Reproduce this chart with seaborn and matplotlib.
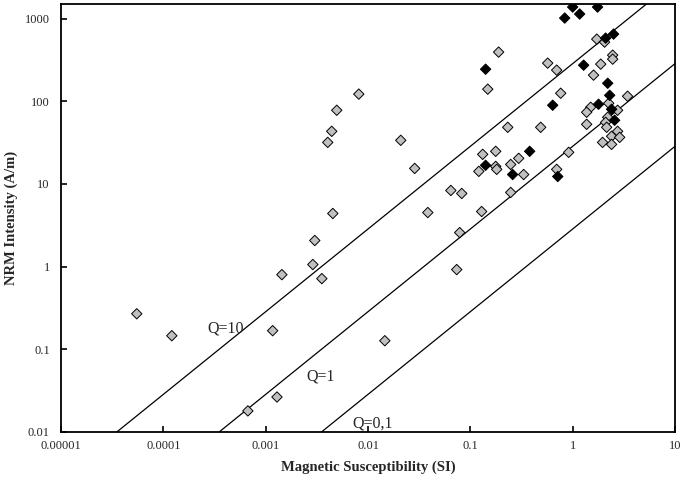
import matplotlib
matplotlib.use("Agg")
import matplotlib.pyplot as plt
import matplotlib.ticker as mticker
import numpy as np
import pandas as pd
import seaborn as sns

# ── Data ────────────────────────────────────────────────────────────────────
# grey diamonds: susceptibility (SI) and NRM intensity (A/m)
grey_k = [5.5e-5, 1.21e-4, 6.7e-4, 1.29e-3, 1.17e-3, 1.44e-3, 2.89e-3, 3.54e-3,
          3.02e-3, 4.53e-3, 4.04e-3, 4.42e-3, 4.95e-3, 8.13e-3, 0.0209, 0.0286,
          0.0384, 0.0645, 0.0824, 0.0787, 0.0736, 0.0146, 0.129, 0.121, 0.132,
          0.177, 0.177, 0.181, 0.148, 0.189, 0.232, 0.248, 0.297, 0.332, 0.248,
          0.487, 0.570, 0.698, 0.764, 0.914, 0.698, 1.72, 2.05, 2.46, 2.46,
          1.88, 1.60, 3.44, 1.50, 1.37, 1.37, 2.25, 2.75, 2.20, 2.10, 2.15,
          2.75, 2.40, 2.88, 1.96, 2.40]
grey_nrm = [0.269, 0.146, 0.018, 0.0265, 0.168, 0.80, 1.06, 0.716,
            2.07, 4.39, 31.8, 43.3, 77.8, 122, 33.7, 15.4,
            4.51, 8.34, 7.67, 2.58, 0.921, 0.127, 4.64, 14.2, 22.8,
            24.8, 16.3, 15.0, 140, 393, 48.4, 17.2, 20.4, 13.0, 7.89,
            48.4, 289, 238, 125, 24.1, 15.0, 564, 519, 361, 323,
            281, 207, 115, 84.6, 73.6, 52.6, 94.6, 77.8, 64.0, 55.6, 48.4,
            43.3, 37.7, 36.6, 31.8, 30.1]

# black diamonds
black_k = [0.141, 0.141, 0.259, 0.380, 0.638, 0.715, 0.836, 1.0, 1.17, 1.75,
           2.10, 2.51, 1.28, 2.20, 2.30, 1.79, 2.40, 2.57]
black_nrm = [244, 16.8, 13.0, 24.8, 89.5, 12.3, 1014, 1378, 1135, 1378,
             580, 649, 273, 165, 118, 92, 80, 58.9]

# Koenigsberger ratio reference lines, NRM = Q * k * H
q_values = [10, 1, 0.1]
q_labels = ["Q=10", "Q=1", "Q=0,1"]
q_label_pos = [(2.7e-4, 0.18), (2.5e-3, 0.047), (7.0e-3, 0.0128)]
field_h = 28.5  # A/m

x_ticks = [0.00001, 0.0001, 0.001, 0.01, 0.1, 1, 10]
x_tick_labels = ["0.00001", "0.0001", "0.001", "0.01", "0.1", "1", "10"]
y_ticks = [0.01, 0.1, 1, 10, 100, 1000]
y_tick_labels = ["0.01", "0.1", "1", "10", "100", "1000"]

df = pd.DataFrame({
    "k": grey_k + black_k,
    "nrm": grey_nrm + black_nrm,
    "group": ["grey"] * len(grey_k) + ["black"] * len(black_k),
})

# ── Styling ─────────────────────────────────────────────────────────────────
sns.set_style("ticks")
plt.rcParams["font.family"] = ["Liberation Serif", "DejaVu Serif"]

fig = plt.figure(figsize=(6.86, 4.80), dpi=100)
ax = fig.add_axes([61 / 686, 48 / 480, 614 / 686, 428 / 480])

x_line = np.array([1e-5, 10.0])
for q in q_values:
    ax.plot(x_line, q * field_h * x_line, color="black", lw=0.9, zorder=1)

sns.scatterplot(
    data=df, x="k", y="nrm", hue="group",
    palette={"grey": "#c0c0c0", "black": "black"},
    marker="D", s=28, edgecolor="black", linewidth=0.7,
    legend=False, ax=ax, zorder=3,
)

for label, (lx, ly) in zip(q_labels, q_label_pos):
    ax.text(lx, ly, label, fontsize=11.5, ha="left", va="center")

ax.set_xscale("log")
ax.set_yscale("log")
ax.set_xlim(1e-5, 10)
ax.set_ylim(0.01, 1500)
ax.set_xticks(x_ticks)
ax.set_xticklabels(x_tick_labels)
ax.set_yticks(y_ticks)
ax.set_yticklabels(y_tick_labels)
ax.xaxis.set_minor_locator(mticker.NullLocator())
ax.yaxis.set_minor_locator(mticker.NullLocator())
ax.tick_params(axis="both", direction="in", length=4, width=1.2,
               labelsize=9, color="black")
ax.tick_params(axis="x", pad=6)
ax.tick_params(axis="y", pad=8)

for spine in ax.spines.values():
    spine.set_linewidth(1.3)
    spine.set_color("black")

ax.set_xlabel("Magnetic Susceptibility (SI)", fontsize=10.5,
              fontweight="bold", labelpad=6)
ax.set_ylabel("NRM Intensity (A/m)", fontsize=10.5,
              fontweight="bold", labelpad=5)

fig.savefig("out.png", dpi=100)
plt.close(fig)
